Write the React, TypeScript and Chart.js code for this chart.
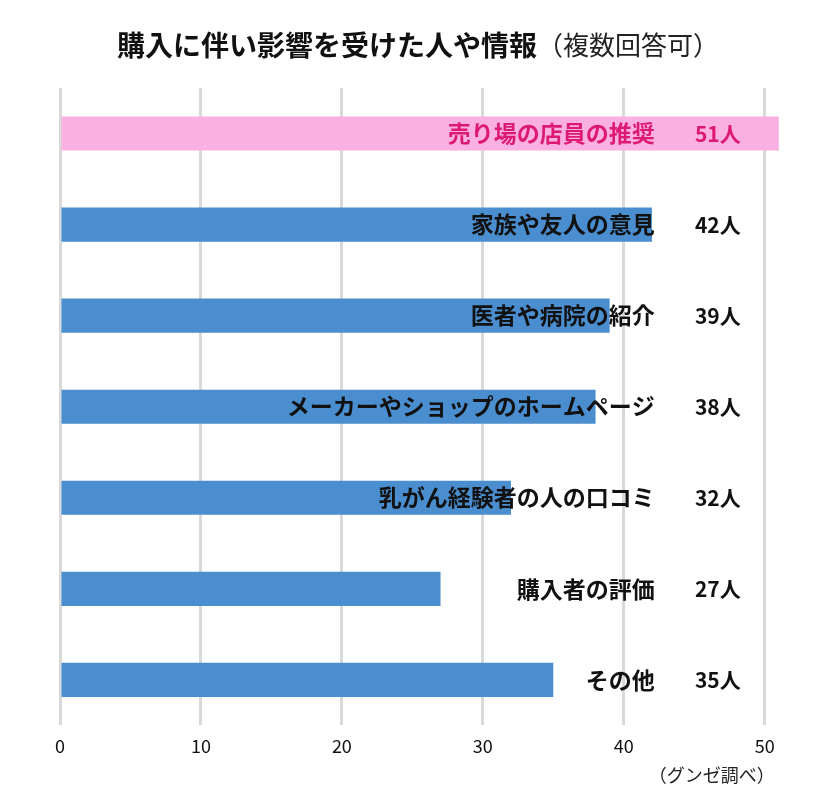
import React, { useEffect, useRef } from "react";
import { Chart, registerables } from "chart.js";

Chart.register(...registerables);

const categories: string[] = [
  "売り場の店員の推奨",
  "家族や友人の意見",
  "医者や病院の紹介",
  "メーカーやショップのホームページ",
  "乳がん経験者の人の口コミ",
  "購入者の評価",
  "その他",
];
const values: number[] = [51, 42, 39, 38, 32, 27, 35];
const valueLabels: string[] = ["51人", "42人", "39人", "38人", "32人", "27人", "35人"];
const tickValues: number[] = [0, 10, 20, 30, 40, 50];
const highlightIndex = 0;
const titleMain = "購入に伴い影響を受けた人や情報";
const titleSub = "（複数回答可）";
const sourceNote = "（グンゼ調べ）";
const xMin = 0;
const xMax = 51.3;
const categoryLabelAnchor = 42.2;
const valueLabelAnchor = 48.3;

const FONT = '"Noto Sans CJK JP", "Noto Sans", sans-serif';
const BLUE = "#4a8ecf";
const PINK = "#fab1e1";
const PINK_TEXT = "#dc1a76";

const overlayPlugin = {
  id: "overlay",
  afterDatasetsDraw(chart: any) {
    const { ctx, chartArea } = chart;
    const xs = chart.scales.x;
    const meta = chart.getDatasetMeta(0);
    ctx.save();
    ctx.textBaseline = "middle";
    meta.data.forEach((bar: any, i: number) => {
      const y = bar.y;
      ctx.fillStyle = i === highlightIndex ? PINK_TEXT : "#111";
      ctx.font = `bold 23px ${FONT}`;
      ctx.textAlign = "right";
      ctx.fillText(categories[i], xs.getPixelForValue(categoryLabelAnchor), y);
      ctx.font = `bold 21px ${FONT}`;
      ctx.fillText(valueLabels[i], xs.getPixelForValue(valueLabelAnchor), y);
    });
    // title
    const cx = chart.width / 2 + 8;
    const ty = chartArea.top - 43;
    ctx.font = `bold 28px ${FONT}`;
    const w1 = ctx.measureText(titleMain).width;
    ctx.font = `26px ${FONT}`;
    const w2 = ctx.measureText(titleSub).width;
    const start = cx - (w1 + w2) / 2;
    ctx.textAlign = "left";
    ctx.fillStyle = "#111";
    ctx.font = `bold 28px ${FONT}`;
    ctx.fillText(titleMain, start, ty);
    ctx.font = `26px ${FONT}`;
    ctx.fillStyle = "#222";
    ctx.fillText(titleSub, start + w1, ty);
    // source note
    ctx.font = `18px ${FONT}`;
    ctx.textAlign = "right";
    ctx.fillStyle = "#222";
    ctx.fillText(sourceNote, xs.getPixelForValue(50) + 10, chartArea.bottom + 50);
    ctx.restore();
  },
};

export default function App() {
  const ref = useRef<HTMLCanvasElement | null>(null);
  useEffect(() => {
    document.body.style.margin = "0";
    if (!ref.current) return;
    const chart = new Chart(ref.current, {
      type: "bar",
      data: {
        labels: categories,
        datasets: [
          {
            data: values,
            backgroundColor: values.map((_, i) => (i === highlightIndex ? PINK : BLUE)),
            borderWidth: 0,
            barPercentage: 0.75,
            categoryPercentage: 0.5,
          },
        ],
      },
      options: {
        indexAxis: "y",
        animation: false,
        responsive: false,
        maintainAspectRatio: false,
        layout: { padding: { left: 60, right: 37, top: 88, bottom: 33 } },
        plugins: {
          legend: { display: false },
          title: { display: false },
          tooltip: { enabled: false },
        },
        scales: {
          x: {
            min: xMin,
            max: xMax,
            afterBuildTicks: (scale: any) => {
              scale.ticks = tickValues.map((v) => ({ value: v }));
            },
            ticks: {
              color: "#111",
              padding: 10,
              maxRotation: 0,
              font: { family: FONT, size: 18 },
            },
            grid: { color: "#d9d9d9", lineWidth: 3, drawTicks: false },
            border: { display: false },
          },
          y: {
            display: false,
            grid: { display: false },
          },
        },
      },
      plugins: [overlayPlugin],
    });
    return () => chart.destroy();
  }, []);
  return (
    <div style={{ width: 820, height: 800, background: "#fff" }}>
      <canvas ref={ref} width={820} height={800} style={{ display: "block" }} />
    </div>
  );
}
